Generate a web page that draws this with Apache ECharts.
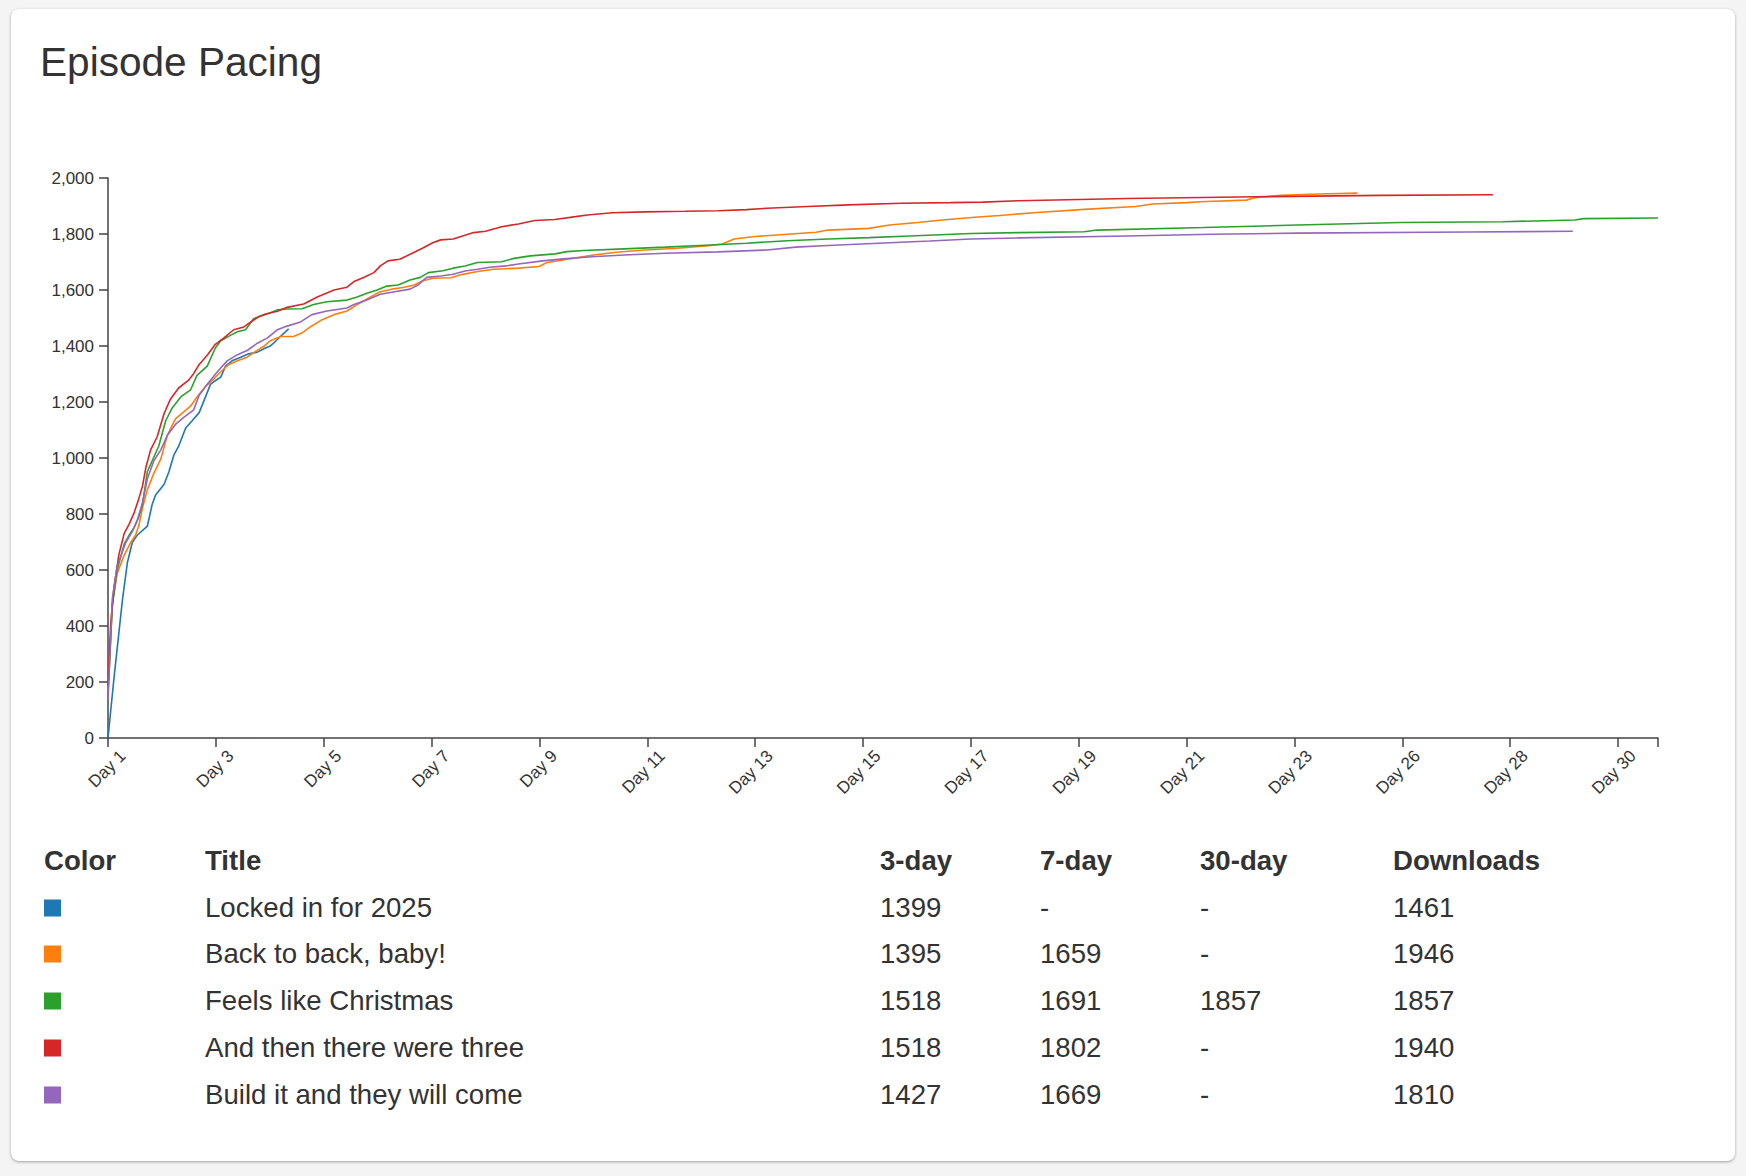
<!DOCTYPE html>
<html>
<head>
<meta charset="utf-8">
<script src="https://cdn.jsdelivr.net/npm/echarts@6/dist/echarts.min.js"></script>
<style>
  html, body { margin: 0; padding: 0; background: #f4f4f4; width: 1746px; height: 1176px; overflow: hidden; font-family: "Liberation Sans", Arial, Helvetica, sans-serif; color: #333; }
  #card { position: absolute; left: 11px; top: 9px; width: 1724px; height: 1152px; background: #fff; border-radius: 8px; box-shadow: 0 1px 3px rgba(0,0,0,0.35); }
  #title { position: absolute; left: 40px; top: 42px; font-size: 40.6px; line-height: 1; color: #333; white-space: nowrap; }
  #chart { position: absolute; left: 0; top: 0; width: 1746px; height: 830px; }
  .cell { position: absolute; font-size: 27.6px; line-height: 1; transform: translateY(-50%); white-space: nowrap; color: #333; }
  .head { font-weight: bold; }
  .sw { position: absolute; width: 17px; height: 17px; transform: translateY(-50%); }
</style>
</head>
<body>
<div id="card"></div>
<div id="title">Episode Pacing</div>
<div id="chart"></div>
<div id="table"></div>
<script>
// ---- data ----
const tickLabels = ["Day 1","Day 3","Day 5","Day 7","Day 9","Day 11","Day 13","Day 15","Day 17","Day 19","Day 21","Day 23","Day 26","Day 28","Day 30"];
const seriesNames = ["Locked in for 2025","Back to back, baby!","Feels like Christmas","And then there were three","Build it and they will come"];
const seriesColors = ["#1f77b4","#ff7f0e","#2ca02c","#d62728","#9467bd"];
const threeDay = ["1399","1395","1518","1518","1427"];
const sevenDay = ["-","1659","1691","1802","1669"];
const thirtyDay = ["-","-","1857","-","-"];
const downloads = ["1461","1946","1857","1940","1810"];

// [day offset from Day 1, cumulative downloads]
const lockedIn = [[0,0],[0.11,212],[0.27,497],[0.36,627],[0.45,698],[0.54,724],[0.73,757],[0.82,835],[0.88,867],[1.04,906],[1.13,951],[1.22,1010],[1.31,1042],[1.44,1107],[1.56,1133],[1.69,1162],[1.78,1205],[1.9,1263],[1.99,1276],[2.09,1289],[2.18,1328],[2.3,1347],[2.46,1360],[2.61,1372],[2.77,1378],[2.92,1393],[3.0,1399],[3.07,1410],[3.23,1440],[3.35,1461]];
const backToBack = [[0,170],[0.08,480],[0.17,588],[0.3,653],[0.42,698],[0.51,724],[0.57,757],[0.64,822],[0.73,887],[0.85,945],[0.98,997],[1.1,1081],[1.25,1140],[1.41,1166],[1.53,1185],[1.65,1218],[1.81,1256],[1.96,1282],[2.09,1308],[2.24,1334],[2.4,1347],[2.58,1360],[2.73,1380],[2.89,1399],[3.01,1419],[3.2,1434],[3.44,1434],[3.6,1447],[3.75,1468],[3.97,1494],[4.19,1512],[4.43,1525],[4.62,1548],[4.8,1568],[5.05,1594],[5.26,1603],[5.49,1610],[5.68,1618],[5.83,1632],[6.02,1642],[6.36,1644],[6.55,1655],[6.85,1666],[7.15,1674],[7.61,1678],[7.99,1684],[8.14,1698],[8.44,1707],[8.74,1717],[9.04,1726],[9.42,1735],[9.95,1743],[10.55,1749],[11.08,1757],[11.39,1764],[11.61,1782],[11.99,1791],[12.6,1799],[13.13,1806],[13.35,1814],[14.11,1820],[14.49,1832],[15.01,1841],[15.47,1850],[16.07,1860],[16.53,1866],[17.23,1877],[18.1,1888],[19.05,1898],[19.37,1907],[20.0,1912],[20.24,1915],[21.11,1921],[21.27,1930],[21.74,1938],[22.45,1943],[23.17,1946]];
const feelsLike = [[0,160],[0.08,471],[0.17,601],[0.3,692],[0.39,724],[0.48,750],[0.57,789],[0.64,835],[0.73,951],[0.82,990],[0.94,1042],[1.07,1133],[1.19,1179],[1.35,1218],[1.53,1243],[1.65,1295],[1.84,1328],[1.99,1393],[2.09,1419],[2.27,1438],[2.4,1451],[2.55,1458],[2.7,1497],[2.89,1512],[3.0,1518],[3.14,1529],[3.32,1532],[3.6,1533],[3.81,1548],[4.06,1558],[4.43,1564],[4.62,1575],[4.8,1588],[4.99,1600],[5.17,1614],[5.38,1618],[5.6,1636],[5.79,1645],[5.94,1662],[6.21,1669],[6.4,1678],[6.62,1686],[6.85,1698],[7.3,1701],[7.53,1713],[7.83,1722],[8.29,1729],[8.51,1737],[8.82,1741],[9.57,1747],[10.33,1753],[11.08,1760],[11.84,1767],[12.6,1776],[13.35,1782],[14.11,1787],[14.86,1793],[16.0,1802],[16.89,1805],[18.1,1808],[18.34,1814],[20.32,1823],[22.06,1832],[23.96,1841],[25.86,1844],[27.2,1850],[27.36,1855],[28.74,1857]];
const thenThree = [[0,186],[0.05,406],[0.11,536],[0.2,653],[0.3,731],[0.39,763],[0.48,802],[0.57,854],[0.64,900],[0.7,964],[0.79,1029],[0.91,1075],[1.04,1159],[1.16,1211],[1.31,1250],[1.5,1279],[1.59,1302],[1.69,1334],[1.84,1367],[1.99,1406],[2.15,1429],[2.33,1458],[2.52,1468],[2.61,1481],[2.8,1505],[3.0,1518],[3.14,1524],[3.32,1538],[3.63,1550],[3.88,1575],[4.19,1600],[4.43,1610],[4.56,1630],[4.74,1645],[4.93,1662],[5.05,1686],[5.19,1704],[5.41,1710],[5.64,1731],[5.83,1749],[6.02,1769],[6.17,1779],[6.4,1782],[6.59,1794],[6.78,1805],[7.0,1810],[7.3,1826],[7.61,1836],[7.91,1848],[8.29,1852],[8.67,1862],[8.89,1868],[9.35,1876],[9.95,1879],[10.7,1881],[11.31,1883],[11.84,1887],[12.22,1892],[12.97,1898],[13.73,1904],[14.71,1910],[15.62,1912],[16.22,1914],[16.89,1919],[18.9,1927],[21.3,1933],[23.6,1938],[25.68,1940]];
const buildIt = [[0,134],[0.08,497],[0.17,614],[0.33,698],[0.45,737],[0.54,776],[0.64,841],[0.73,926],[0.85,990],[0.98,1029],[1.1,1081],[1.25,1120],[1.41,1146],[1.59,1172],[1.69,1224],[1.84,1263],[2.06,1315],[2.21,1347],[2.4,1369],[2.58,1384],[2.77,1410],[2.95,1428],[3.14,1458],[3.32,1471],[3.57,1486],[3.78,1512],[4.06,1525],[4.43,1536],[4.56,1548],[4.8,1564],[5.05,1585],[5.26,1592],[5.6,1603],[5.75,1618],[5.91,1645],[6.17,1650],[6.4,1656],[6.62,1668],[6.85,1674],[7.08,1681],[7.38,1686],[7.61,1693],[8.06,1704],[8.44,1711],[8.97,1719],[9.57,1725],[10.33,1731],[11.31,1736],[12.22,1743],[12.75,1753],[13.35,1759],[14.49,1769],[15.24,1775],[16.0,1782],[16.89,1786],[18.89,1793],[20.48,1799],[22.06,1803],[25.22,1807],[27.16,1810]];
const allSeries = [lockedIn, backToBack, feelsLike, thenThree, buildIt];

// ---- chart ----
const chart = echarts.init(document.getElementById('chart'), null, {renderer: 'svg'});
const axisColor = '#444';
const font = '"Liberation Sans", Arial, Helvetica, sans-serif';
chart.setOption({
  animation: false,
  grid: {left: 108, top: 178, width: 1550, height: 560, containLabel: false},
  xAxis: {
    type: 'value', min: 0, max: 28.74, interval: 2,
    axisLine: {show: true, lineStyle: {color: axisColor, width: 1.5}},
    axisTick: {show: true, length: 9, lineStyle: {color: axisColor, width: 1.5}},
    splitLine: {show: false},
    axisLabel: {
      rotate: 45, margin: 30, fontSize: 17, color: '#333', fontFamily: font,
      padding: [0, -21, 0, 0],
      showMaxLabel: true, showMinLabel: true,
      formatter: function (v) {
        const i = Math.round(v / 2);
        if (Math.abs(v - i * 2) > 1e-6) return '';
        return tickLabels[i] || '';
      }
    }
  },
  yAxis: {
    type: 'value', min: 0, max: 2000, interval: 200,
    axisLine: {show: true, lineStyle: {color: axisColor, width: 1.5}},
    axisTick: {show: true, length: 9, lineStyle: {color: axisColor, width: 1.5}},
    splitLine: {show: false},
    axisLabel: {
      margin: 14, fontSize: 17, color: '#333', fontFamily: font,
      formatter: function (v) { return v.toLocaleString('en-US'); }
    }
  },
  series: allSeries.map(function (d, k) {
    return {
      type: 'line', name: seriesNames[k], data: d,
      showSymbol: false, symbol: 'none',
      lineStyle: {color: seriesColors[k], width: 1.6},
      itemStyle: {color: seriesColors[k]},
      emphasis: {disabled: true}, silent: true
    };
  })
});

// ---- table ----
const table = document.getElementById('table');
const colX = [44, 205, 880, 1040, 1200, 1393];
const headers = ["Color", "Title", "3-day", "7-day", "30-day", "Downloads"];
const headerY = 861;
const rowY0 = 907.5, rowStep = 46.9;
function addCell(x, y, text, cls) {
  const d = document.createElement('div');
  d.className = 'cell ' + (cls || '');
  d.style.left = x + 'px';
  d.style.top = y + 'px';
  d.textContent = text;
  table.appendChild(d);
}
headers.forEach(function (h, i) { addCell(colX[i], headerY, h, 'head'); });
seriesNames.forEach(function (name, r) {
  const y = rowY0 + r * rowStep;
  const sw = document.createElement('div');
  sw.className = 'sw';
  sw.style.left = colX[0] + 'px';
  sw.style.top = y + 'px';
  sw.style.background = seriesColors[r];
  table.appendChild(sw);
  addCell(colX[1], y, name);
  addCell(colX[2], y, threeDay[r]);
  addCell(colX[3], y, sevenDay[r]);
  addCell(colX[4], y, thirtyDay[r]);
  addCell(colX[5], y, downloads[r]);
});
</script>
</body>
</html>
